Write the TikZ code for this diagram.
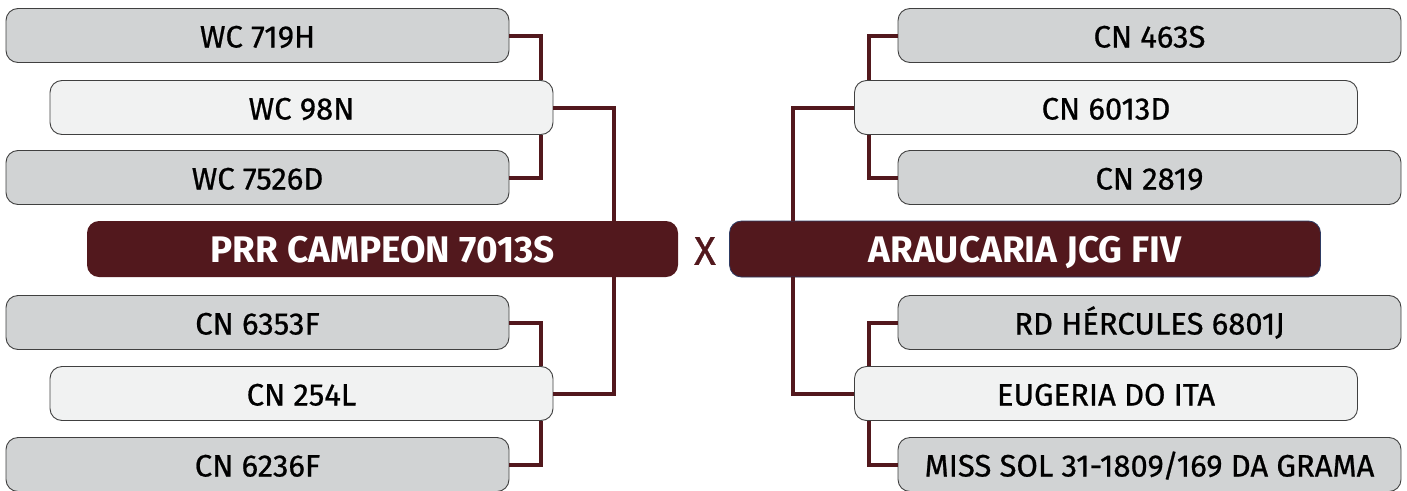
\documentclass[tikz,border=0pt]{standalone}
\usepackage{fontspec}
\setmainfont{Fira Sans}
\newfontfamily\medfont{Fira Sans}[FakeBold=0.7]
\definecolor{wine}{HTML}{52181D}
\definecolor{boxgray}{HTML}{D1D3D4}
\definecolor{boxlight}{HTML}{F1F2F2}
\definecolor{rimblue}{HTML}{2E3B63}

\begin{document}
\begin{tikzpicture}[x=1pt,y=-1pt,
  dam/.style={draw=black!75, line width=0.9pt, rounded corners=12pt,
    fill=boxgray, minimum width=503pt, minimum height=54pt, inner sep=0pt,
    text height=24pt, text depth=0pt, font=\medfont\fontsize{31}{31}\selectfont},
  sire/.style={dam, fill=boxlight},
  champ/.style={fill=wine, text=white, rounded corners=12pt, inner sep=0pt,
    minimum width=591pt, minimum height=56pt, text height=27pt, text depth=0pt,
    font=\fontsize{37}{37}\selectfont\bfseries},
  link/.style={draw=wine, line width=4pt}]
\useasboundingbox (0,0) rectangle (1407,490);
% Left pedigree
\node[dam]  (g1) at (257.5,35.5)  {WC 719H};
\node[sire] (l1) at (301.5,107.5) {WC 98N};
\node[dam]  (g2) at (257.5,177.5) {WC 7526D};
\node[champ] (tL) at (382.5,249) {PRR CAMPEON 7013S};
\node[dam]  (g3) at (257.5,322.5) {CN 6353F};
\node[sire] (l2) at (301.5,393.5) {CN 254L};
\node[dam]  (g4) at (257.5,464.5) {CN 6236F};
% Right pedigree
\node[dam]  (r1) at (1149.5,35.5)  {CN 463S};
\node[sire] (r2) at (1106,107.5)   {CN 6013D};
\node[dam]  (r3) at (1149.5,177.5) {CN 2819};
\node[champ, draw=rimblue, line width=0.8pt] (tR) at (1025,249) {ARAUCARIA JCG FIV};
\node[dam]  (r4) at (1149.5,322.5) {RD HÉRCULES 6801J};
\node[sire] (r5) at (1106,393.5)   {EUGERIA DO ITA};
\node[dam]  (r6) at (1149.5,464.5) {MISS SOL 31-1809/169 DA GRAMA};
% Cross
\node[text=wine, font=\medfont\fontsize{40}{40}\selectfont] (vs) at (705,251) {X};
% Left connectors
\draw[link] (g1.east) -| ([xshift=-12pt]l1.north east);
\draw[link] (g2.east) -| ([xshift=-12pt]l1.south east);
\draw[link] (l1.east) -| ([xshift=-64pt]tL.north east);
\draw[link] (g3.east) -| ([xshift=-12pt]l2.north east);
\draw[link] (g4.east) -| ([xshift=-12pt]l2.south east);
\draw[link] (l2.east) -| ([xshift=-64pt]tL.south east);
% Right connectors
\draw[link] (r1.west) -| ([xshift=15pt]r2.north west);
\draw[link] (r3.west) -| ([xshift=15pt]r2.south west);
\draw[link] (r2.west) -| ([xshift=64pt]tR.north west);
\draw[link] (r4.west) -| ([xshift=15pt]r5.north west);
\draw[link] (r6.west) -| ([xshift=15pt]r5.south west);
\draw[link] (r5.west) -| ([xshift=64pt]tR.south west);
\end{tikzpicture}
\end{document}
